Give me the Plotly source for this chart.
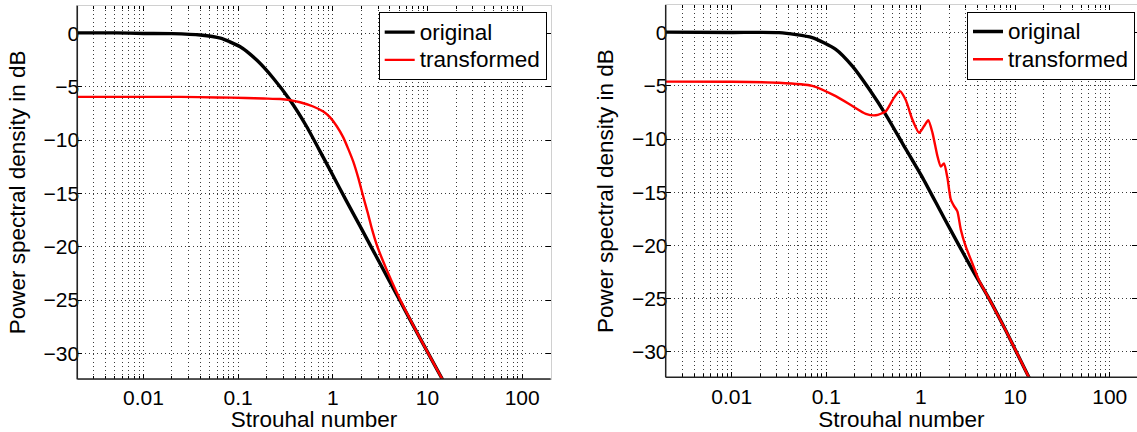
import plotly.graph_objects as go

# ---------------- data ----------------
# Left panel
st_orig_left = [0.002, 0.005, 0.01, 0.02, 0.04, 0.065, 0.105, 0.157, 0.235, 0.352,
                0.53, 0.79, 1.0, 1.39, 1.92, 3.12, 5.07, 8.24, 14.5]
db_orig_left = [0.05, 0.05, 0.0, -0.02, -0.15, -0.45, -1.25, -2.5, -4.2, -6.25,
                -8.75, -11.6, -13.3, -15.7, -18.0, -21.5, -25.0, -28.5, -32.5]
st_trans_left = [0.002, 0.01, 0.0245, 0.06, 0.12, 0.185, 0.28, 0.352, 0.45, 0.62,
                 0.8, 0.93, 1.1, 1.28, 1.45, 1.64, 1.85, 2.08, 2.35, 2.6, 2.88, 3.2,
                 3.68, 4.68, 5.5, 8.24, 14.5]
db_trans_left = [-5.95, -5.95, -5.95, -6.0, -6.05, -6.1, -6.15, -6.25, -6.45, -6.85,
                 -7.35, -7.85, -8.7, -9.7, -10.8, -12.0, -13.5, -15.2, -16.9, -18.4, -19.7, -20.8,
                 -22.1, -24.2, -25.5, -28.5, -32.5]

# Right panel
st_orig_right = [0.002, 0.01, 0.0316, 0.071, 0.126, 0.189, 0.284, 0.426, 0.64, 1.04,
                 1.76, 3.52, 5.28, 7.94, 13.4, 14.5]
db_orig_right = [0.05, 0.02, 0.0, -0.47, -1.57, -3.15, -5.3, -7.7, -10.4, -13.6,
                 -17.4, -22.3, -25.0, -28.0, -32.1, -32.7]
st_trans_right = [0.002, 0.01, 0.0316, 0.071, 0.126, 0.189, 0.262, 0.334, 0.426, 0.52,
                  0.6, 0.69, 0.815, 0.96, 1.08, 1.2, 1.33, 1.5, 1.63, 1.76, 1.91,
                  2.08, 2.25, 2.44, 2.65, 2.99, 3.52, 4.14, 5.28, 7.94, 13.4, 14.5]
db_trans_right = [-4.6, -4.62, -4.71, -5.0, -5.97, -6.9, -7.63, -7.77, -7.39, -6.13,
                  -5.5, -6.29, -8.17, -9.42, -8.8, -8.24, -9.42, -11.6, -12.6, -12.3, -13.6,
                  -15.7, -16.3, -16.8, -18.5, -20.1, -21.7, -23.3, -25.0, -28.0, -32.1, -32.7]

series_names = ["original", "transformed"]
x_tick_vals = [0.01, 0.1, 1, 10, 100]
x_tick_text = ["0.01", "0.1", "1", "10", "100"]
y_tick_vals = [-30, -25, -20, -15, -10, -5, 0]
x_title = "Strouhal number"
y_title = "Power spectral density in dB"

# ---------------- figure ----------------
W, H = 1137, 432
FONT = "Liberation Sans, Arial, Helvetica, sans-serif"
minor_vals = [d * 10 ** k for k in range(-3, 3) for d in range(2, 10)]

fig = go.Figure()

def legend_label(s):
    return "<span style='font-size:22.5px'>" + s + "</span>"

def add_pair(st_o, db_o, st_t, db_t, xa, ya, legend):
    fig.add_trace(go.Scatter(x=st_o, y=db_o, mode="lines", name=legend_label(series_names[0]),
                             line=dict(color="#000000", width=3.4, shape="spline", smoothing=0.6),
                             xaxis=xa, yaxis=ya, legend=legend))
    fig.add_trace(go.Scatter(x=st_t, y=db_t, mode="lines", name=legend_label(series_names[1]),
                             line=dict(color="#ff0000", width=2.4, shape="spline", smoothing=0.6),
                             xaxis=xa, yaxis=ya, legend=legend))

add_pair(st_orig_left, db_orig_left, st_trans_left, db_trans_left, "x", "y", "legend")
add_pair(st_orig_right, db_orig_right, st_trans_right, db_trans_right, "x2", "y2", "legend2")

GRIDCOL = "#3a3a3a"
GRIDDASH = "1px,3px"
grid = dict(showgrid=True, gridcolor=GRIDCOL, gridwidth=1, griddash=GRIDDASH)

def xaxis(domain, rng, anchor):
    return dict(type="log", domain=domain, range=rng, anchor=anchor,
                tickvals=x_tick_vals, ticktext=x_tick_text,
                ticks="inside", ticklen=5, tickcolor="#000000",
                showline=True, linecolor="#d0d0d0", linewidth=1, mirror="ticks",
                zeroline=False,
                tickfont=dict(family=FONT, size=21, color="#000000"),
                title=dict(text=x_title, font=dict(family=FONT, size=22.5, color="#000000"), standoff=4),
                minor=dict(tickvals=minor_vals, ticks="inside", ticklen=3, tickcolor="#000000",
                           showgrid=True, gridcolor=GRIDCOL, gridwidth=1, griddash=GRIDDASH),
                **grid)

def yaxis(domain, anchor):
    return dict(domain=domain, range=[-32.4, 2.6], anchor=anchor,
                tickvals=y_tick_vals,
                ticks="inside", ticklen=5, tickcolor="#000000",
                showline=True, linecolor="#d0d0d0", linewidth=1, mirror="ticks",
                zeroline=False, ticklabelstandoff=-7,
                tickfont=dict(family=FONT, size=21, color="#000000"),
                title=dict(text=y_title, font=dict(family=FONT, size=22.5, color="#000000"), standoff=11),
                **grid)

xl0, xl1 = 77.3 / W, 550.7 / W
xr0, xr1 = 665.7 / W, 1.0
yl0, yl1 = 1 - 379 / H, 1 - 5.7 / H
yr0, yr1 = 1 - 377.3 / H, 1 - 5.0 / H

legend_style = dict(bgcolor="#ffffff", bordercolor="#000000", borderwidth=1,
                    font=dict(family=FONT, size=19, color="#000000"),
                    xanchor="right", yanchor="top", tracegroupgap=0, itemwidth=30)

fig.update_layout(
    width=W, height=H, template="none",
    margin=dict(l=0, r=0, t=0, b=0, pad=0),
    paper_bgcolor="#ffffff", plot_bgcolor="#ffffff",
    font=dict(family=FONT, color="#000000"),
    xaxis=xaxis([xl0, xl1], [-2.699, 2.301], "y"),
    yaxis=yaxis([yl0, yl1], "x"),
    xaxis2=xaxis([xr0, xr1], [-2.699, 2.288], "y2"),
    yaxis2=yaxis([yr0, yr1], "x2"),
    legend=dict(x=546.7 / W, y=1 - 12.3 / H, **legend_style),
    legend2=dict(x=1135 / W, y=1 - 11.7 / H, **legend_style),
    showlegend=True,
)

# dark left / bottom axis lines
for xr, yr in (("x domain", "y domain"), ("x2 domain", "y2 domain")):
    fig.add_shape(type="line", xref=xr, yref=yr, x0=0, x1=0, y0=0, y1=1,
                  line=dict(color="#222222", width=1.5))
    fig.add_shape(type="line", xref=xr, yref=yr, x0=0, x1=1, y0=0, y1=0,
                  line=dict(color="#222222", width=1.5))

fig.write_html("out.html", config={"displayModeBar": False},
               post_script="document.body.style.margin='0';document.body.style.padding='0';")
